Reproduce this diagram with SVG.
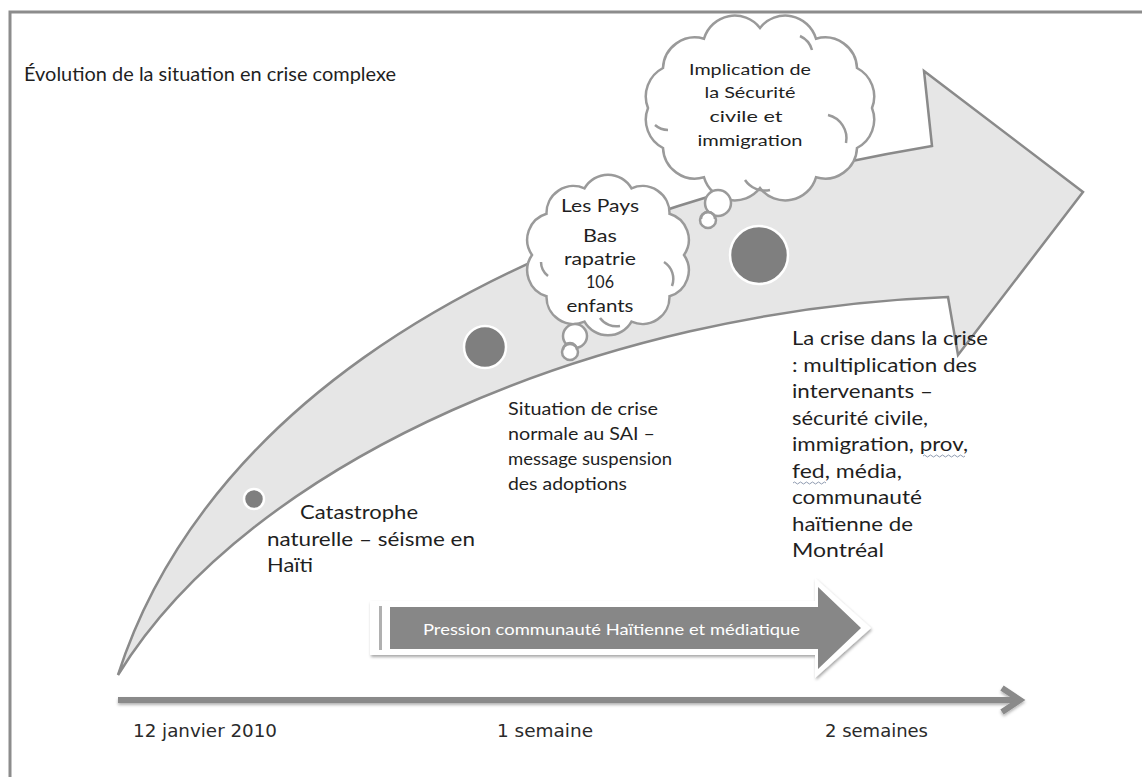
<svg xmlns="http://www.w3.org/2000/svg" width="1142" height="777" viewBox="0 0 1142 777">
<defs>
<filter id="sh" x="-10%" y="-30%" width="120%" height="160%">
<feDropShadow dx="1" dy="2" stdDeviation="1.5" flood-color="#000" flood-opacity="0.35"/>
</filter>
<filter id="sh2" x="-5%" y="-100%" width="110%" height="300%">
<feDropShadow dx="0" dy="2" stdDeviation="1.5" flood-color="#000" flood-opacity="0.3"/>
</filter>
</defs>
<style>
.t{font-family:Lato,"Liberation Sans",sans-serif;fill:#1f1f1f}
.c{font-family:Lato,"Liberation Sans",sans-serif;fill:#1f1f1f;text-anchor:middle}
.ax{font-family:"Liberation Sans Narrow","DejaVu Sans Condensed","Liberation Sans",sans-serif;fill:#2a2a2a;font-size:18px}
.cloud{fill:#fff;stroke:#9a9a9a;stroke-width:2.5}
.curl{fill:none;stroke:#9a9a9a;stroke-width:2.5}
.dot{fill:#7f7f7f;stroke:#fff;stroke-width:2.5}
.wavy{fill:none;stroke:#8f9bb0;stroke-width:1}
</style>
<rect width="1142" height="777" fill="#fff"/>
<g id="frame">
<path d="M10,777 V12 H1142" fill="none" stroke="#8c8c8c" stroke-width="3"/>
</g>
<text id="title" class="t" x="24" y="81" font-size="20" textLength="372" lengthAdjust="spacingAndGlyphs">Évolution de la situation en crise complexe</text>
<g id="connectors">
<g id="big-arrow">
<path d="M118,675 C190,450 430,230 932,146 L924,71 L1083,192 L958,355 L948,297 C600,310 250,460 118,675 Z" fill="#e6e6e6" stroke="#8a8a8a" stroke-width="2.5" stroke-linejoin="miter"/>
</g>
<g id="time-axis" filter="url(#sh2)">
<line x1="118" y1="700" x2="1016" y2="700" stroke="#8a8a8a" stroke-width="6"/>
<polyline points="1002,688 1020,700 1002,712" fill="none" stroke="#8a8a8a" stroke-width="6"/>
</g>
</g>
<g id="dot-1"><circle class="dot" cx="254" cy="499" r="10"/></g>
<g id="dot-2"><circle class="dot" cx="485" cy="347" r="21"/></g>
<g id="dot-3"><circle class="dot" cx="759" cy="255" r="29"/></g>
<g id="cloud-paysbas">
<path class="cloud" d="M684,255 A27,27 0 0,1 669.5,296.2 A27,27 0 0,1 631.5,321.6 A27,27 0 0,1 584.5,321.6 A27,27 0 0,1 546.5,296.2 A27,27 0 0,1 532,255 A27,27 0 0,1 546.5,213.8 A27,27 0 0,1 584.5,188.4 A27,27 0 0,1 631.5,188.4 A27,27 0 0,1 669.5,213.8 A27,27 0 0,1 684,255 Z"/>
<path class="curl" d="M664,262 A20,20 0 0,1 672,286"/>
<path class="curl" d="M600,318 A20,20 0 0,0 620,326"/>
<path class="curl" d="M541,262 A18,18 0 0,0 548,276"/>
<circle class="cloud" cx="575" cy="336" r="12"/>
<circle class="cloud" cx="570" cy="352" r="8"/>
<path class="curl" d="M563,350 A7,7 0 0,1 577,350" stroke-width="1.8"/>
<text class="c" font-size="17" x="600" y="212" textLength="78" lengthAdjust="spacingAndGlyphs">Les Pays</text>
<text class="c" font-size="17" x="600" y="242" textLength="34" lengthAdjust="spacingAndGlyphs">Bas</text>
<text class="c" font-size="17" x="600" y="265" textLength="72" lengthAdjust="spacingAndGlyphs">rapatrie</text>
<text class="c" font-size="17" x="600" y="288" textLength="28" lengthAdjust="spacingAndGlyphs">106</text>
<text class="c" font-size="17" x="600" y="312" textLength="67" lengthAdjust="spacingAndGlyphs">enfants</text>
</g>
<g id="cloud-securite">
<path class="cloud" d="M872,108 A32,32 0 0,1 857,148 A32,32 0 0,1 816,177.3 A32,32 0 0,1 760,188 A32,32 0 0,1 704,177.3 A32,32 0 0,1 663,148 A32,32 0 0,1 648,108 A32,32 0 0,1 663,68 A32,32 0 0,1 704,38.7 A32,32 0 0,1 760,28 A32,32 0 0,1 816,38.7 A32,32 0 0,1 857,68 A32,32 0 0,1 872,108 Z"/>
<path class="curl" d="M828,115 A24,24 0 0,1 846,143"/>
<path class="curl" d="M655,125 A20,20 0 0,0 668,130"/>
<path class="curl" d="M745,180 A24,24 0 0,0 770,190"/>
<path class="curl" d="M800,36 A22,22 0 0,1 812,50"/>
<circle class="cloud" cx="718" cy="203" r="13"/>
<circle class="cloud" cx="708" cy="220" r="8"/>
<path class="curl" d="M701,219 A7,7 0 0,1 715,219" stroke-width="1.8"/>
<text class="c" font-size="16" x="750" y="75" textLength="122" lengthAdjust="spacingAndGlyphs">Implication de</text>
<text class="c" font-size="16" x="750" y="98" textLength="91" lengthAdjust="spacingAndGlyphs">la Sécurité</text>
<text class="c" font-size="16" x="746" y="122" textLength="73" lengthAdjust="spacingAndGlyphs">civile et</text>
<text class="c" font-size="16" x="750" y="146" textLength="105" lengthAdjust="spacingAndGlyphs">immigration</text>
</g>
<g id="label-catastrophe">
<text class="t" font-size="20" x="300" y="519" textLength="118" lengthAdjust="spacingAndGlyphs">Catastrophe</text>
<text class="t" font-size="20" x="267" y="546" textLength="208" lengthAdjust="spacingAndGlyphs">naturelle – séisme en</text>
<text class="t" font-size="20" x="267" y="572" textLength="46" lengthAdjust="spacingAndGlyphs">Haïti</text>
</g>
<g id="label-situation">
<text class="t" font-size="18" x="508" y="415" textLength="150" lengthAdjust="spacingAndGlyphs">Situation de crise</text>
<text class="t" font-size="18" x="508" y="440" textLength="147" lengthAdjust="spacingAndGlyphs">normale au SAI –</text>
<text class="t" font-size="18" x="508" y="465" textLength="164" lengthAdjust="spacingAndGlyphs">message suspension</text>
<text class="t" font-size="18" x="508" y="490" textLength="119" lengthAdjust="spacingAndGlyphs">des adoptions</text>
</g>
<g id="label-crise">
<text class="t" font-size="19" x="792" y="345" textLength="196" lengthAdjust="spacingAndGlyphs">La crise dans la crise</text>
<text class="t" font-size="19" x="792" y="371.5" textLength="185" lengthAdjust="spacingAndGlyphs">: multiplication des</text>
<text class="t" font-size="19" x="792" y="398" textLength="141" lengthAdjust="spacingAndGlyphs">intervenants –</text>
<text class="t" font-size="19" x="792" y="424.5" textLength="136" lengthAdjust="spacingAndGlyphs">sécurité civile,</text>
<text class="t" font-size="19" x="792" y="451" textLength="176" lengthAdjust="spacingAndGlyphs">immigration, prov,</text>
<text class="t" font-size="19" x="792" y="477.5" textLength="110" lengthAdjust="spacingAndGlyphs">fed, média,</text>
<text class="t" font-size="19" x="792" y="504" textLength="130" lengthAdjust="spacingAndGlyphs">communauté</text>
<text class="t" font-size="19" x="792" y="530.5" textLength="121" lengthAdjust="spacingAndGlyphs">haïtienne de</text>
<text class="t" font-size="19" x="792" y="557" textLength="92" lengthAdjust="spacingAndGlyphs">Montréal</text>
<path class="wavy" d="M923,456 q1.5,-2 3,0 t3,0 t3,0 t3,0 t3,0 t3,0 t3,0 t3,0 t3,0 t3,0 t3,0 t3,0 t3,0 t3,0"/>
<path class="wavy" d="M793,483 q1.5,-2 3,0 t3,0 t3,0 t3,0 t3,0 t3,0 t3,0 t3,0 t3,0 t3,0 t3,0"/>
</g>
<g id="pression-arrow">
<path d="M370,601 H815 V578 L871,628 L815,678 V655 H370 Z" fill="#fff" filter="url(#sh)"/>
<rect x="379" y="606" width="3" height="44" fill="#b0b0b0"/>
<path d="M390,607 H818 V587 L861,628 L818,669 V649 H390 Z" fill="#878787"/>
<text x="423" y="635" font-size="16" fill="#fff" font-family="Lato,'Liberation Sans',sans-serif" textLength="377" lengthAdjust="spacingAndGlyphs">Pression communauté Haïtienne et médiatique</text>
</g>
<g id="axis-labels">
<text class="ax" x="133" y="737" textLength="144" lengthAdjust="spacingAndGlyphs">12 janvier 2010</text>
<text class="ax" x="497" y="737" textLength="96" lengthAdjust="spacingAndGlyphs">1 semaine</text>
<text class="ax" x="825" y="737" textLength="103" lengthAdjust="spacingAndGlyphs">2 semaines</text>
</g>
</svg>
